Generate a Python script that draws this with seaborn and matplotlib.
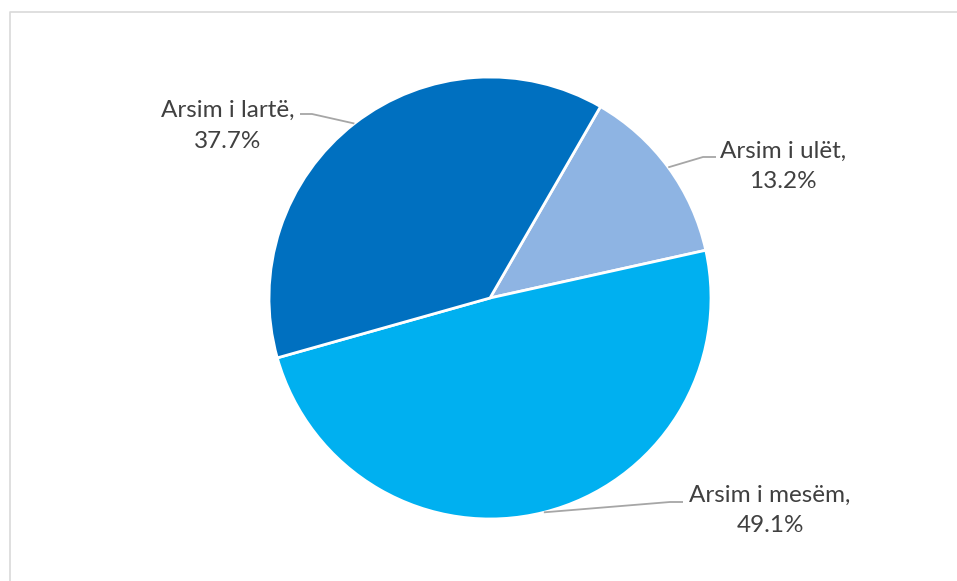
import numpy as np
import matplotlib
matplotlib.use("Agg")
import matplotlib.pyplot as plt
from matplotlib.lines import Line2D
import seaborn as sns

categories = ["Arsim i ulët", "Arsim i mesëm", "Arsim i lartë"]
shares = [13.2, 49.1, 37.7]
colors = ["#8EB4E3", "#00B0F0", "#0070C0"]

sns.set_theme(style="white")
plt.rcParams["font.family"] = ["Lato", "DejaVu Sans"]

W, H = 957, 581
fig = plt.figure(figsize=(W / 100, H / 100), dpi=100)
ax = fig.add_axes([0, 0, 1, 1])

# chart frame: only the top and left edges fall inside the canvas
fx, fy = 9.5 / W, 1 - 11.5 / H
fig.lines.append(Line2D([fx, fx, 1.01], [-0.01, fy, fy], transform=fig.transFigure,
                        color="#D9D9D9", linewidth=1.2))

cx, cy, r = 490, H - 298, 221
wedges, _ = ax.pie(shares, colors=colors, startangle=60, counterclock=False,
                   center=(cx, cy), radius=r, frame=True,
                   wedgeprops=dict(edgecolor="white", linewidth=2.0))
ax.set_xlim(0, W)
ax.set_ylim(0, H)
ax.set_axis_off()

# label layout: (elbow, line end, text centre) in pixel coords from the top
layout = [
    ((703, 157), (716, 157), (783, 151)),
    ((670, 502), (683, 502), (770, 495)),
    ((312, 114), (300, 114), (228, 110)),
]

for w, cat, val, (elbow, end, txt) in zip(wedges, categories, shares, layout):
    mid = np.deg2rad((w.theta1 + w.theta2) / 2)
    sx, sy = cx + r * np.cos(mid), cy + r * np.sin(mid)
    ax.plot([sx, elbow[0], end[0]], [sy, H - elbow[1], H - end[1]],
            color="#A6A6A6", linewidth=1.3, solid_capstyle="butt")
    ax.text(txt[0], H - txt[1], f"{cat},", ha="center", va="center",
            fontsize=17.5, color="#404040")
    ax.text(txt[0], H - txt[1] - 31, f"{val}%", ha="center", va="center",
            fontsize=17.5, color="#404040")

fig.savefig("out.png", dpi=100)
